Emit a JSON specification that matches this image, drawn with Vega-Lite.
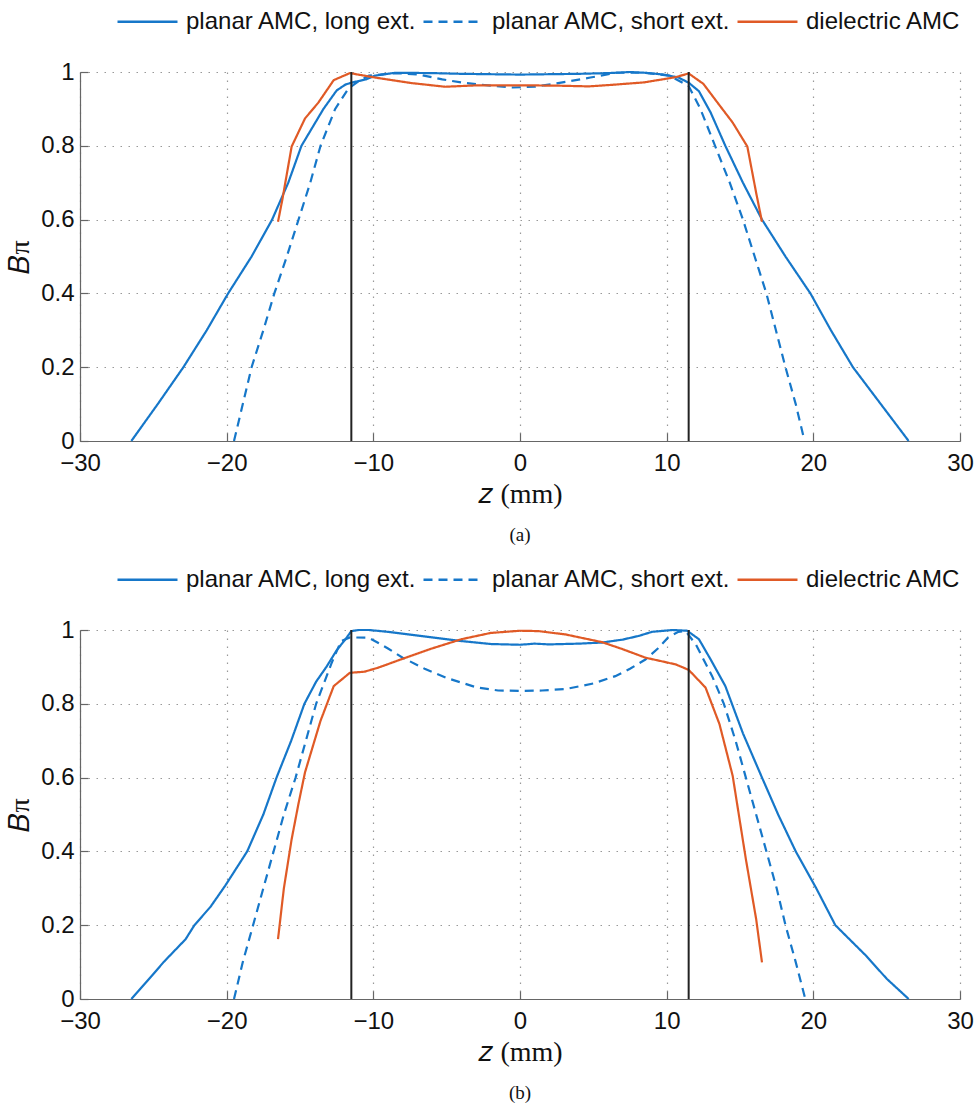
{
  "$schema": "https://vega.github.io/schema/vega-lite/v6.json",
  "background": "white",
  "padding": {"left": 6, "top": -10, "right": 10, "bottom": 4},
  "config": {
    "font": "Liberation Sans",
    "view": {"stroke": null},
    "concat": {"spacing": 3},
    "axis": {
      "labelFont": "Liberation Sans", "labelFontSize": 24, "labelColor": "#111", "labelFlush": false,
      "domainColor": "#666", "domainWidth": 1.2, "tickColor": "#666", "tickWidth": 1.2,
      "gridColor": "#999", "gridDash": [1.5, 6.5], "gridWidth": 1.2,
      "titleFont": "Liberation Serif", "titleFontSize": 28, "titleFontWeight": "normal", "titleColor": "#111"
    },
    "legend": {
      "symbolType": "stroke", "symbolSize": 3600, "symbolStrokeWidth": 2.5,
      "labelFont": "Liberation Sans", "labelFontSize": 24, "labelColor": "#111", "labelLimit": 500,
      "labelOffset": 7, "columnPadding": 1, "direction": "horizontal", "title": null
    }
  },
  "datasets": {
    "curves": [
      {"panel": "a", "series": "planar AMC, long ext.", "z": -26.5, "B": 0},
      {"panel": "a", "series": "planar AMC, long ext.", "z": -24.7, "B": 0.1},
      {"panel": "a", "series": "planar AMC, long ext.", "z": -22.95, "B": 0.2},
      {"panel": "a", "series": "planar AMC, long ext.", "z": -21.36, "B": 0.3},
      {"panel": "a", "series": "planar AMC, long ext.", "z": -19.9, "B": 0.4},
      {"panel": "a", "series": "planar AMC, long ext.", "z": -18.3, "B": 0.5},
      {"panel": "a", "series": "planar AMC, long ext.", "z": -16.9, "B": 0.6},
      {"panel": "a", "series": "planar AMC, long ext.", "z": -15.8, "B": 0.7},
      {"panel": "a", "series": "planar AMC, long ext.", "z": -14.9, "B": 0.8},
      {"panel": "a", "series": "planar AMC, long ext.", "z": -13.4, "B": 0.9},
      {"panel": "a", "series": "planar AMC, long ext.", "z": -12.5, "B": 0.95},
      {"panel": "a", "series": "planar AMC, long ext.", "z": -11.9, "B": 0.966},
      {"panel": "a", "series": "planar AMC, long ext.", "z": -11.5, "B": 0.971},
      {"panel": "a", "series": "planar AMC, long ext.", "z": -10.5, "B": 0.98},
      {"panel": "a", "series": "planar AMC, long ext.", "z": -9.9, "B": 0.99},
      {"panel": "a", "series": "planar AMC, long ext.", "z": -8.5, "B": 0.998},
      {"panel": "a", "series": "planar AMC, long ext.", "z": -6, "B": 0.997},
      {"panel": "a", "series": "planar AMC, long ext.", "z": -4, "B": 0.995},
      {"panel": "a", "series": "planar AMC, long ext.", "z": -2, "B": 0.994},
      {"panel": "a", "series": "planar AMC, long ext.", "z": 0, "B": 0.993},
      {"panel": "a", "series": "planar AMC, long ext.", "z": 2, "B": 0.994},
      {"panel": "a", "series": "planar AMC, long ext.", "z": 4, "B": 0.995},
      {"panel": "a", "series": "planar AMC, long ext.", "z": 6, "B": 0.997},
      {"panel": "a", "series": "planar AMC, long ext.", "z": 7.5, "B": 1.0},
      {"panel": "a", "series": "planar AMC, long ext.", "z": 8.5, "B": 0.998},
      {"panel": "a", "series": "planar AMC, long ext.", "z": 9.8, "B": 0.993},
      {"panel": "a", "series": "planar AMC, long ext.", "z": 10.8, "B": 0.985},
      {"panel": "a", "series": "planar AMC, long ext.", "z": 11.5, "B": 0.971},
      {"panel": "a", "series": "planar AMC, long ext.", "z": 12.2, "B": 0.948},
      {"panel": "a", "series": "planar AMC, long ext.", "z": 13, "B": 0.89},
      {"panel": "a", "series": "planar AMC, long ext.", "z": 14, "B": 0.8},
      {"panel": "a", "series": "planar AMC, long ext.", "z": 15.2, "B": 0.7},
      {"panel": "a", "series": "planar AMC, long ext.", "z": 16.5, "B": 0.6},
      {"panel": "a", "series": "planar AMC, long ext.", "z": 18.1, "B": 0.5},
      {"panel": "a", "series": "planar AMC, long ext.", "z": 19.8, "B": 0.4},
      {"panel": "a", "series": "planar AMC, long ext.", "z": 21.2, "B": 0.3},
      {"panel": "a", "series": "planar AMC, long ext.", "z": 22.7, "B": 0.2},
      {"panel": "a", "series": "planar AMC, long ext.", "z": 24.6, "B": 0.1},
      {"panel": "a", "series": "planar AMC, long ext.", "z": 26.5, "B": 0},

      {"panel": "a", "series": "planar AMC, short ext.", "z": -19.5, "B": 0},
      {"panel": "a", "series": "planar AMC, short ext.", "z": -18.9, "B": 0.1},
      {"panel": "a", "series": "planar AMC, short ext.", "z": -18.3, "B": 0.2},
      {"panel": "a", "series": "planar AMC, short ext.", "z": -17.5, "B": 0.3},
      {"panel": "a", "series": "planar AMC, short ext.", "z": -16.75, "B": 0.4},
      {"panel": "a", "series": "planar AMC, short ext.", "z": -15.9, "B": 0.5},
      {"panel": "a", "series": "planar AMC, short ext.", "z": -15.1, "B": 0.6},
      {"panel": "a", "series": "planar AMC, short ext.", "z": -14.3, "B": 0.7},
      {"panel": "a", "series": "planar AMC, short ext.", "z": -13.6, "B": 0.8},
      {"panel": "a", "series": "planar AMC, short ext.", "z": -12.6, "B": 0.9},
      {"panel": "a", "series": "planar AMC, short ext.", "z": -11.7, "B": 0.955},
      {"panel": "a", "series": "planar AMC, short ext.", "z": -11, "B": 0.975},
      {"panel": "a", "series": "planar AMC, short ext.", "z": -10.3, "B": 0.99},
      {"panel": "a", "series": "planar AMC, short ext.", "z": -8.5, "B": 0.997},
      {"panel": "a", "series": "planar AMC, short ext.", "z": -6.9, "B": 0.993},
      {"panel": "a", "series": "planar AMC, short ext.", "z": -5.3, "B": 0.98},
      {"panel": "a", "series": "planar AMC, short ext.", "z": -3.9, "B": 0.971},
      {"panel": "a", "series": "planar AMC, short ext.", "z": -2, "B": 0.963},
      {"panel": "a", "series": "planar AMC, short ext.", "z": -0.5, "B": 0.958},
      {"panel": "a", "series": "planar AMC, short ext.", "z": 1, "B": 0.96},
      {"panel": "a", "series": "planar AMC, short ext.", "z": 2.8, "B": 0.971},
      {"panel": "a", "series": "planar AMC, short ext.", "z": 4.8, "B": 0.985},
      {"panel": "a", "series": "planar AMC, short ext.", "z": 6.6, "B": 0.998},
      {"panel": "a", "series": "planar AMC, short ext.", "z": 8.5, "B": 0.998},
      {"panel": "a", "series": "planar AMC, short ext.", "z": 10.2, "B": 0.99},
      {"panel": "a", "series": "planar AMC, short ext.", "z": 11.5, "B": 0.962},
      {"panel": "a", "series": "planar AMC, short ext.", "z": 12.3, "B": 0.9},
      {"panel": "a", "series": "planar AMC, short ext.", "z": 13.3, "B": 0.8},
      {"panel": "a", "series": "planar AMC, short ext.", "z": 14.3, "B": 0.7},
      {"panel": "a", "series": "planar AMC, short ext.", "z": 15.2, "B": 0.6},
      {"panel": "a", "series": "planar AMC, short ext.", "z": 16, "B": 0.5},
      {"panel": "a", "series": "planar AMC, short ext.", "z": 16.8, "B": 0.4},
      {"panel": "a", "series": "planar AMC, short ext.", "z": 17.45, "B": 0.3},
      {"panel": "a", "series": "planar AMC, short ext.", "z": 18.1, "B": 0.2},
      {"panel": "a", "series": "planar AMC, short ext.", "z": 18.8, "B": 0.1},
      {"panel": "a", "series": "planar AMC, short ext.", "z": 19.4, "B": 0},

      {"panel": "a", "series": "dielectric AMC", "z": -16.5, "B": 0.594},
      {"panel": "a", "series": "dielectric AMC", "z": -16.2, "B": 0.655},
      {"panel": "a", "series": "dielectric AMC", "z": -15.57, "B": 0.798},
      {"panel": "a", "series": "dielectric AMC", "z": -14.66, "B": 0.874},
      {"panel": "a", "series": "dielectric AMC", "z": -13.75, "B": 0.917},
      {"panel": "a", "series": "dielectric AMC", "z": -12.7, "B": 0.978},
      {"panel": "a", "series": "dielectric AMC", "z": -11.6, "B": 0.997},
      {"panel": "a", "series": "dielectric AMC", "z": -9.9, "B": 0.985},
      {"panel": "a", "series": "dielectric AMC", "z": -7.4, "B": 0.97},
      {"panel": "a", "series": "dielectric AMC", "z": -5.1, "B": 0.96},
      {"panel": "a", "series": "dielectric AMC", "z": -2.85, "B": 0.964},
      {"panel": "a", "series": "dielectric AMC", "z": 0, "B": 0.964},
      {"panel": "a", "series": "dielectric AMC", "z": 2.5, "B": 0.963},
      {"panel": "a", "series": "dielectric AMC", "z": 4.7, "B": 0.961},
      {"panel": "a", "series": "dielectric AMC", "z": 6.2, "B": 0.965},
      {"panel": "a", "series": "dielectric AMC", "z": 8.5, "B": 0.972},
      {"panel": "a", "series": "dielectric AMC", "z": 10.6, "B": 0.986},
      {"panel": "a", "series": "dielectric AMC", "z": 11.5, "B": 0.996},
      {"panel": "a", "series": "dielectric AMC", "z": 12.5, "B": 0.968},
      {"panel": "a", "series": "dielectric AMC", "z": 13.6, "B": 0.91},
      {"panel": "a", "series": "dielectric AMC", "z": 14.5, "B": 0.863},
      {"panel": "a", "series": "dielectric AMC", "z": 15.5, "B": 0.798},
      {"panel": "a", "series": "dielectric AMC", "z": 16.1, "B": 0.673},
      {"panel": "a", "series": "dielectric AMC", "z": 16.5, "B": 0.594},

      {"panel": "b", "series": "planar AMC, long ext.", "z": -26.5, "B": 0},
      {"panel": "b", "series": "planar AMC, long ext.", "z": -25.1, "B": 0.063},
      {"panel": "b", "series": "planar AMC, long ext.", "z": -24.3, "B": 0.1},
      {"panel": "b", "series": "planar AMC, long ext.", "z": -22.8, "B": 0.162},
      {"panel": "b", "series": "planar AMC, long ext.", "z": -22.2, "B": 0.2},
      {"panel": "b", "series": "planar AMC, long ext.", "z": -21.1, "B": 0.25},
      {"panel": "b", "series": "planar AMC, long ext.", "z": -20.1, "B": 0.307},
      {"panel": "b", "series": "planar AMC, long ext.", "z": -18.6, "B": 0.4},
      {"panel": "b", "series": "planar AMC, long ext.", "z": -17.5, "B": 0.5},
      {"panel": "b", "series": "planar AMC, long ext.", "z": -16.6, "B": 0.6},
      {"panel": "b", "series": "planar AMC, long ext.", "z": -15.6, "B": 0.7},
      {"panel": "b", "series": "planar AMC, long ext.", "z": -14.7, "B": 0.8},
      {"panel": "b", "series": "planar AMC, long ext.", "z": -13.9, "B": 0.86},
      {"panel": "b", "series": "planar AMC, long ext.", "z": -13.2, "B": 0.9},
      {"panel": "b", "series": "planar AMC, long ext.", "z": -12.5, "B": 0.945},
      {"panel": "b", "series": "planar AMC, long ext.", "z": -11.9, "B": 0.975},
      {"panel": "b", "series": "planar AMC, long ext.", "z": -11.5, "B": 0.997},
      {"panel": "b", "series": "planar AMC, long ext.", "z": -11, "B": 1.0},
      {"panel": "b", "series": "planar AMC, long ext.", "z": -10.3, "B": 1.0},
      {"panel": "b", "series": "planar AMC, long ext.", "z": -9, "B": 0.995},
      {"panel": "b", "series": "planar AMC, long ext.", "z": -8, "B": 0.99},
      {"panel": "b", "series": "planar AMC, long ext.", "z": -6, "B": 0.98},
      {"panel": "b", "series": "planar AMC, long ext.", "z": -4, "B": 0.97},
      {"panel": "b", "series": "planar AMC, long ext.", "z": -2, "B": 0.962},
      {"panel": "b", "series": "planar AMC, long ext.", "z": 0, "B": 0.96},
      {"panel": "b", "series": "planar AMC, long ext.", "z": 1, "B": 0.963},
      {"panel": "b", "series": "planar AMC, long ext.", "z": 2, "B": 0.961},
      {"panel": "b", "series": "planar AMC, long ext.", "z": 4, "B": 0.963},
      {"panel": "b", "series": "planar AMC, long ext.", "z": 5.6, "B": 0.966},
      {"panel": "b", "series": "planar AMC, long ext.", "z": 7, "B": 0.974},
      {"panel": "b", "series": "planar AMC, long ext.", "z": 8.1, "B": 0.984},
      {"panel": "b", "series": "planar AMC, long ext.", "z": 9, "B": 0.995},
      {"panel": "b", "series": "planar AMC, long ext.", "z": 10.4, "B": 1.0},
      {"panel": "b", "series": "planar AMC, long ext.", "z": 11.4, "B": 0.998},
      {"panel": "b", "series": "planar AMC, long ext.", "z": 12.2, "B": 0.975},
      {"panel": "b", "series": "planar AMC, long ext.", "z": 13, "B": 0.92},
      {"panel": "b", "series": "planar AMC, long ext.", "z": 14, "B": 0.848},
      {"panel": "b", "series": "planar AMC, long ext.", "z": 15.2, "B": 0.72},
      {"panel": "b", "series": "planar AMC, long ext.", "z": 16.5, "B": 0.6},
      {"panel": "b", "series": "planar AMC, long ext.", "z": 17.6, "B": 0.5},
      {"panel": "b", "series": "planar AMC, long ext.", "z": 18.8, "B": 0.4},
      {"panel": "b", "series": "planar AMC, long ext.", "z": 20.2, "B": 0.3},
      {"panel": "b", "series": "planar AMC, long ext.", "z": 21.5, "B": 0.2},
      {"panel": "b", "series": "planar AMC, long ext.", "z": 23.6, "B": 0.117},
      {"panel": "b", "series": "planar AMC, long ext.", "z": 25, "B": 0.055},
      {"panel": "b", "series": "planar AMC, long ext.", "z": 26.5, "B": 0},

      {"panel": "b", "series": "planar AMC, short ext.", "z": -19.5, "B": 0},
      {"panel": "b", "series": "planar AMC, short ext.", "z": -18.9, "B": 0.1},
      {"panel": "b", "series": "planar AMC, short ext.", "z": -18.2, "B": 0.2},
      {"panel": "b", "series": "planar AMC, short ext.", "z": -17.5, "B": 0.3},
      {"panel": "b", "series": "planar AMC, short ext.", "z": -16.8, "B": 0.4},
      {"panel": "b", "series": "planar AMC, short ext.", "z": -16.1, "B": 0.5},
      {"panel": "b", "series": "planar AMC, short ext.", "z": -15.3, "B": 0.6},
      {"panel": "b", "series": "planar AMC, short ext.", "z": -14.6, "B": 0.7},
      {"panel": "b", "series": "planar AMC, short ext.", "z": -13.9, "B": 0.8},
      {"panel": "b", "series": "planar AMC, short ext.", "z": -12.85, "B": 0.91},
      {"panel": "b", "series": "planar AMC, short ext.", "z": -12.2, "B": 0.97},
      {"panel": "b", "series": "planar AMC, short ext.", "z": -11.6, "B": 0.98},
      {"panel": "b", "series": "planar AMC, short ext.", "z": -10.3, "B": 0.979},
      {"panel": "b", "series": "planar AMC, short ext.", "z": -9, "B": 0.95},
      {"panel": "b", "series": "planar AMC, short ext.", "z": -8, "B": 0.925},
      {"panel": "b", "series": "planar AMC, short ext.", "z": -6.5, "B": 0.895},
      {"panel": "b", "series": "planar AMC, short ext.", "z": -5, "B": 0.87},
      {"panel": "b", "series": "planar AMC, short ext.", "z": -3, "B": 0.845},
      {"panel": "b", "series": "planar AMC, short ext.", "z": -1.5, "B": 0.836},
      {"panel": "b", "series": "planar AMC, short ext.", "z": 0, "B": 0.835},
      {"panel": "b", "series": "planar AMC, short ext.", "z": 1.5, "B": 0.836},
      {"panel": "b", "series": "planar AMC, short ext.", "z": 3.1, "B": 0.84},
      {"panel": "b", "series": "planar AMC, short ext.", "z": 5, "B": 0.855},
      {"panel": "b", "series": "planar AMC, short ext.", "z": 6.5, "B": 0.875},
      {"panel": "b", "series": "planar AMC, short ext.", "z": 7.5, "B": 0.895},
      {"panel": "b", "series": "planar AMC, short ext.", "z": 8.55, "B": 0.92},
      {"panel": "b", "series": "planar AMC, short ext.", "z": 9.4, "B": 0.95},
      {"panel": "b", "series": "planar AMC, short ext.", "z": 10.1, "B": 0.98},
      {"panel": "b", "series": "planar AMC, short ext.", "z": 10.8, "B": 0.995},
      {"panel": "b", "series": "planar AMC, short ext.", "z": 11.3, "B": 0.997},
      {"panel": "b", "series": "planar AMC, short ext.", "z": 12, "B": 0.96},
      {"panel": "b", "series": "planar AMC, short ext.", "z": 13.1, "B": 0.875},
      {"panel": "b", "series": "planar AMC, short ext.", "z": 13.9, "B": 0.8},
      {"panel": "b", "series": "planar AMC, short ext.", "z": 14.7, "B": 0.7},
      {"panel": "b", "series": "planar AMC, short ext.", "z": 15.4, "B": 0.6},
      {"panel": "b", "series": "planar AMC, short ext.", "z": 16.1, "B": 0.5},
      {"panel": "b", "series": "planar AMC, short ext.", "z": 16.8, "B": 0.4},
      {"panel": "b", "series": "planar AMC, short ext.", "z": 17.5, "B": 0.3},
      {"panel": "b", "series": "planar AMC, short ext.", "z": 18.1, "B": 0.2},
      {"panel": "b", "series": "planar AMC, short ext.", "z": 18.8, "B": 0.1},
      {"panel": "b", "series": "planar AMC, short ext.", "z": 19.45, "B": 0},

      {"panel": "b", "series": "dielectric AMC", "z": -16.5, "B": 0.162},
      {"panel": "b", "series": "dielectric AMC", "z": -16.1, "B": 0.3},
      {"panel": "b", "series": "dielectric AMC", "z": -15.57, "B": 0.433},
      {"panel": "b", "series": "dielectric AMC", "z": -15.1, "B": 0.53},
      {"panel": "b", "series": "dielectric AMC", "z": -14.66, "B": 0.614},
      {"panel": "b", "series": "dielectric AMC", "z": -13.6, "B": 0.754},
      {"panel": "b", "series": "dielectric AMC", "z": -12.7, "B": 0.848},
      {"panel": "b", "series": "dielectric AMC", "z": -11.6, "B": 0.884},
      {"panel": "b", "series": "dielectric AMC", "z": -10.6, "B": 0.887},
      {"panel": "b", "series": "dielectric AMC", "z": -9.66, "B": 0.898},
      {"panel": "b", "series": "dielectric AMC", "z": -8, "B": 0.922},
      {"panel": "b", "series": "dielectric AMC", "z": -6, "B": 0.95},
      {"panel": "b", "series": "dielectric AMC", "z": -4, "B": 0.975},
      {"panel": "b", "series": "dielectric AMC", "z": -2, "B": 0.992},
      {"panel": "b", "series": "dielectric AMC", "z": 0, "B": 0.998},
      {"panel": "b", "series": "dielectric AMC", "z": 1.25, "B": 0.997},
      {"panel": "b", "series": "dielectric AMC", "z": 3.1, "B": 0.988},
      {"panel": "b", "series": "dielectric AMC", "z": 5.6, "B": 0.967},
      {"panel": "b", "series": "dielectric AMC", "z": 7, "B": 0.948},
      {"panel": "b", "series": "dielectric AMC", "z": 8.55, "B": 0.925},
      {"panel": "b", "series": "dielectric AMC", "z": 10.6, "B": 0.907},
      {"panel": "b", "series": "dielectric AMC", "z": 11.5, "B": 0.892},
      {"panel": "b", "series": "dielectric AMC", "z": 12.65, "B": 0.844},
      {"panel": "b", "series": "dielectric AMC", "z": 13.6, "B": 0.745},
      {"panel": "b", "series": "dielectric AMC", "z": 14.5, "B": 0.605},
      {"panel": "b", "series": "dielectric AMC", "z": 15.4, "B": 0.379},
      {"panel": "b", "series": "dielectric AMC", "z": 16.1, "B": 0.217},
      {"panel": "b", "series": "dielectric AMC", "z": 16.5, "B": 0.099}
    ],
    "bounds": [
      {"z": -11.5},
      {"z": 11.5}
    ]
  },
  "resolve": {
    "scale": {"color": "independent", "strokeDash": "independent"},
    "legend": {"color": "independent", "strokeDash": "independent"}
  },
  "vconcat": [
    {
      "width": 880,
      "height": 369,
      "title": {"text": "(a)", "orient": "bottom", "anchor": "middle", "font": "Liberation Serif", "fontSize": 19, "fontWeight": "normal", "color": "#111", "offset": 18},
      "layer": [
        {
          "data": {"name": "curves"},
          "transform": [{"filter": "datum.panel == 'a'"}],
          "mark": {"type": "line", "strokeWidth": 2.2},
          "encoding": {
            "x": {"field": "z", "type": "quantitative", "scale": {"domain": [-30, 30], "nice": false, "zero": false},
                  "axis": {"values": [-30, -20, -10, 0, 10, 20, 30], "title": "𝑧 (mm)", "grid": true, "tickSize": -8, "labelPadding": 18, "titlePadding": 5}},
            "y": {"field": "B", "type": "quantitative", "scale": {"domain": [0, 1], "nice": false},
                  "axis": {"values": [0, 0.2, 0.4, 0.6, 0.8, 1], "format": "~g", "title": "𝐵π", "grid": true, "tickSize": -8, "labelPadding": 14, "titlePadding": 6}},
            "color": {"field": "series", "type": "nominal",
                      "scale": {"domain": ["planar AMC, long ext.", "planar AMC, short ext.", "dielectric AMC"], "range": ["#1677c9", "#1677c9", "#e05a26"]},
                      "legend": {"orient": "none", "legendX": 36, "legendY": -82}},
            "strokeDash": {"field": "series", "type": "nominal",
                      "scale": {"domain": ["planar AMC, long ext.", "planar AMC, short ext.", "dielectric AMC"], "range": [[1, 0], [9, 6], [1, 0]]},
                      "legend": {"orient": "none", "legendX": 36, "legendY": -82}}
          }
        },
        {
          "data": {"name": "bounds"},
          "mark": {"type": "rule", "color": "#222", "strokeWidth": 2},
          "encoding": {"x": {"field": "z", "type": "quantitative"}}
        }
      ]
    },
    {
      "width": 880,
      "height": 369,
      "title": {"text": "(b)", "orient": "bottom", "anchor": "middle", "font": "Liberation Serif", "fontSize": 19, "fontWeight": "normal", "color": "#111", "offset": 18},
      "layer": [
        {
          "data": {"name": "curves"},
          "transform": [{"filter": "datum.panel == 'b'"}],
          "mark": {"type": "line", "strokeWidth": 2.2},
          "encoding": {
            "x": {"field": "z", "type": "quantitative", "scale": {"domain": [-30, 30], "nice": false, "zero": false},
                  "axis": {"values": [-30, -20, -10, 0, 10, 20, 30], "title": "𝑧 (mm)", "grid": true, "tickSize": -8, "labelPadding": 18, "titlePadding": 5}},
            "y": {"field": "B", "type": "quantitative", "scale": {"domain": [0, 1], "nice": false},
                  "axis": {"values": [0, 0.2, 0.4, 0.6, 0.8, 1], "format": "~g", "title": "𝐵π", "grid": true, "tickSize": -8, "labelPadding": 14, "titlePadding": 6}},
            "color": {"field": "series", "type": "nominal",
                      "scale": {"domain": ["planar AMC, long ext.", "planar AMC, short ext.", "dielectric AMC"], "range": ["#1677c9", "#1677c9", "#e05a26"]},
                      "legend": {"orient": "none", "legendX": 36, "legendY": -82}},
            "strokeDash": {"field": "series", "type": "nominal",
                      "scale": {"domain": ["planar AMC, long ext.", "planar AMC, short ext.", "dielectric AMC"], "range": [[1, 0], [9, 6], [1, 0]]},
                      "legend": {"orient": "none", "legendX": 36, "legendY": -82}}
          }
        },
        {
          "data": {"name": "bounds"},
          "mark": {"type": "rule", "color": "#222", "strokeWidth": 2},
          "encoding": {"x": {"field": "z", "type": "quantitative"}}
        }
      ]
    }
  ]
}
